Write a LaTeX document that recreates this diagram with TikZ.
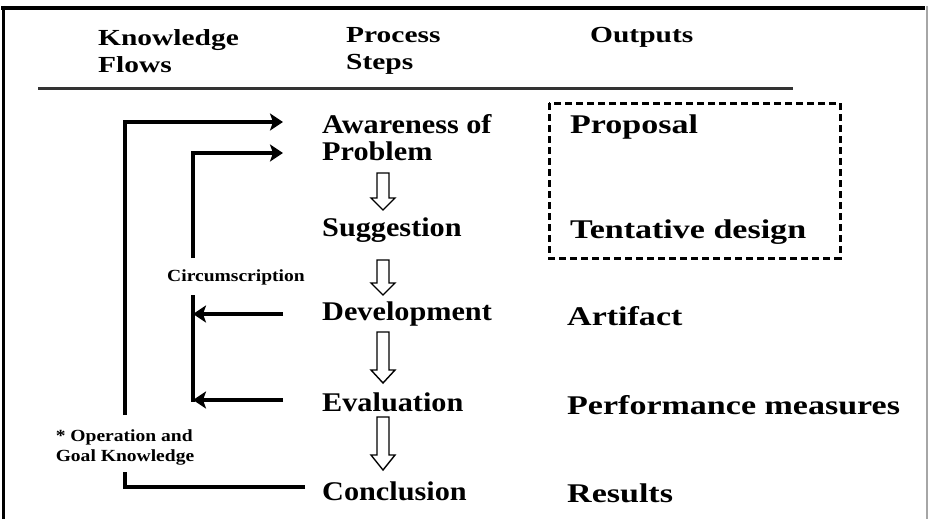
\documentclass[tikz,border=0pt]{standalone}
\usepackage{fontspec}
\setmainfont{Liberation Serif}
\newfontfamily\headfont[FakeStretch=1.28]{Liberation Serif}
\newfontfamily\stepfont[FakeStretch=1.12]{Liberation Serif}
\newfontfamily\outfont[FakeStretch=1.26]{Liberation Serif}
\newfontfamily\smallfont[FakeStretch=1.15]{Liberation Serif}
\usetikzlibrary{arrows.meta}

\tikzset{
  header/.style={font=\headfont\bfseries\fontsize{23}{27}\selectfont, align=left, anchor=west, inner sep=0pt},
  stepname/.style={font=\stepfont\bfseries\fontsize{27}{27}\selectfont, align=left, anchor=west, inner sep=0pt},
  outname/.style={font=\outfont\bfseries\fontsize{27}{27}\selectfont, anchor=west, inner sep=0pt},
  note/.style={font=\smallfont\bfseries\fontsize{17}{20}\selectfont, align=left, inner sep=0pt},
  flow/.style={line width=4pt},
  flowarrow/.style={line width=4pt, -{Stealth[length=13pt,width=17pt,inset=3pt]}},
  hollow/.style={draw=black, line width=1.4pt, fill=white, line join=miter},
  outbox/.style={draw=black, line width=3pt, dash pattern=on 7pt off 4pt},
}

% downward open block arrow: centre x, top, start of head, tip
\newcommand\hollowdown[4]{%
  \draw[hollow] (#1-6,#2) -- (#1+6,#2) -- (#1+6,#3) -- (#1+12,#3) -- (#1,#4)
    -- (#1-12,#3) -- (#1-6,#3) -- cycle;}

\begin{document}
\begin{tikzpicture}[x=1pt,y=-1pt]
  \useasboundingbox (0,0) rectangle (928,519);
  \fill[white] (0,0) rectangle (928,519);

  % frame
  \draw[line width=4pt] (1,8) -- (925,8);
  \draw[line width=3pt] (3,6) -- (3,519);
  \draw[line width=1.5pt, black!35] (927,6) -- (927,519);

  % column headers
  \node[header] (hknow) at (98,51) {Knowledge\\Flows};
  \node[header] (hproc) at (346,51) {Process\\Steps};
  \node[header] (hout)  at (590,37) {Outputs};
  \draw[line width=3pt, black!80] (38,88) -- (793,88);

  % process steps
  \node[stepname] (aware) at (322,138) {Awareness of\\Problem};
  \node[stepname] (sugg)  at (322,230) {Suggestion};
  \node[stepname] (devel) at (322,314) {Development};
  \node[stepname] (evalu) at (322,402) {Evaluation};
  \node[stepname] (concl) at (322,491) {Conclusion};

  % outputs
  \node[outname] (prop) at (570,127) {Proposal};
  \node[outname] (tent) at (570,232) {Tentative design};
  \node[outname] (arti) at (567,316) {Artifact};
  \node[outname] (perf) at (567,405) {Performance measures};
  \node[outname] (resu) at (567,493) {Results};
  \draw[outbox] (549,103) rectangle (840,258);

  % steps in sequence
  \hollowdown{383}{173}{198}{210}
  \hollowdown{383}{260}{283}{295}
  \hollowdown{383}{332}{370}{383}
  \hollowdown{383}{417}{455}{470}

  % knowledge flow labels
  \node[note] (circ) at (236,277) {Circumscription};
  \node[note] (opgoal) at (125,447) {* Operation and\\Goal Knowledge};

  % knowledge flow lines
  \coordinate (inAware) at (283,122);
  \coordinate (inProb)  at (283,153);
  \coordinate (outDev)  at (283,314);
  \coordinate (outEval) at (283,400);
  \coordinate (outConc) at (305,487);
  \coordinate (circTop) at (193,258);
  \coordinate (circBot) at (193,295);
  \coordinate (goalTop) at (125,415);
  \coordinate (goalBot) at (125,472);

  \draw[flow] (outConc) -| (goalBot);
  \draw[flowarrow] (goalTop) |- (inAware);
  \draw[flowarrow] (circTop) |- (inProb);
  \draw[flow] (circBot) -- (193,402);
  \draw[flowarrow] (outDev) -- (circBot |- outDev);
  \draw[flowarrow] (outEval) -- (circBot |- outEval);
\end{tikzpicture}
\end{document}
